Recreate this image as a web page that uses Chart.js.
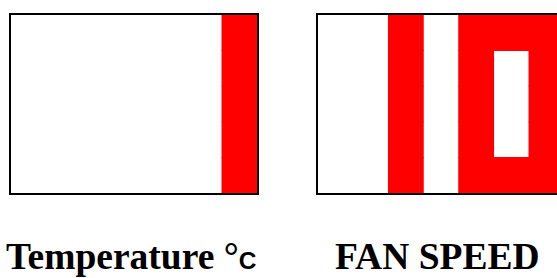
<!DOCTYPE html>
<html>
<head>
<meta charset="utf-8">
<script src="https://cdn.jsdelivr.net/npm/chart.js@4.4.1/dist/chart.umd.min.js"></script>
<style>
    html, body { margin: 0; padding: 0; background: #fff; overflow: hidden; width: 557px; height: 278px; }
    .panel { position: absolute; top: 13px; border: 2px solid #000; width: 246px; height: 178px; }
    .panel canvas { display: block; }
    #tempPanel { left: 9px; }
    #fanPanel { left: 316px; }
    .label {
        position: absolute; top: 239px; white-space: nowrap; line-height: 36px;
        font-family: "Liberation Serif", "Times New Roman", serif; font-weight: bold; font-size: 37.5px; color: #000;
    }
    .label .unit { font-family: "Liberation Sans", Arial, sans-serif; font-size: 24.5px; }
    #tempLabel { left: 6px; }
    #fanLabel { left: 335px; }
</style>
</head>
<body>
<div class="panel" id="tempPanel"><canvas id="tempChart" width="246" height="178"></canvas></div>
<div class="panel" id="fanPanel"><canvas id="fanChart" width="246" height="178"></canvas></div>
<div class="label" id="tempLabel">Temperature °<span class="unit">C</span></div>
<div class="label" id="fanLabel">FAN SPEED</div>
<script>
    // 7 columns x 5 rows, top row first; 1 = lit (red) cell
    const columns = ['c1', 'c2', 'c3', 'c4', 'c5', 'c6', 'c7'];
    const rowCount = 5;

    const tempCells = [
        [0, 0, 0, 0, 0, 0, 1],
        [0, 0, 0, 0, 0, 0, 1],
        [0, 0, 0, 0, 0, 0, 1],
        [0, 0, 0, 0, 0, 0, 1],
        [0, 0, 0, 0, 0, 0, 1]
    ];

    const fanCells = [
        [0, 0, 1, 0, 1, 1, 1],
        [0, 0, 1, 0, 1, 0, 1],
        [0, 0, 1, 0, 1, 0, 1],
        [0, 0, 1, 0, 1, 0, 1],
        [0, 0, 1, 0, 1, 1, 1]
    ];

    const LIT = '#ff0000';

    const buildDatasets = (cells) => cells.map((row, r) => {
        const bottom = rowCount - 1 - r;
        return {
            label: `row ${r + 1}`,
            data: row.map((v) => (v ? [bottom, bottom + 1] : null)),
            backgroundColor: LIT,
            borderWidth: 0,
            grouped: false,
            barPercentage: 1,
            categoryPercentage: 1
        };
    });

    const makeDisplay = (id, cells) => {
        const ctx = document.getElementById(id).getContext('2d');
        return new Chart(ctx, {
            type: 'bar',
            data: { labels: columns, datasets: buildDatasets(cells) },
            options: {
                responsive: false,
                animation: false,
                layout: { padding: 0 },
                scales: {
                    x: { display: false },
                    y: { display: false, min: 0, max: rowCount }
                },
                plugins: {
                    legend: { display: false },
                    tooltip: { enabled: false }
                }
            }
        });
    };

    makeDisplay('tempChart', tempCells);
    makeDisplay('fanChart', fanCells);
</script>
</body>
</html>
